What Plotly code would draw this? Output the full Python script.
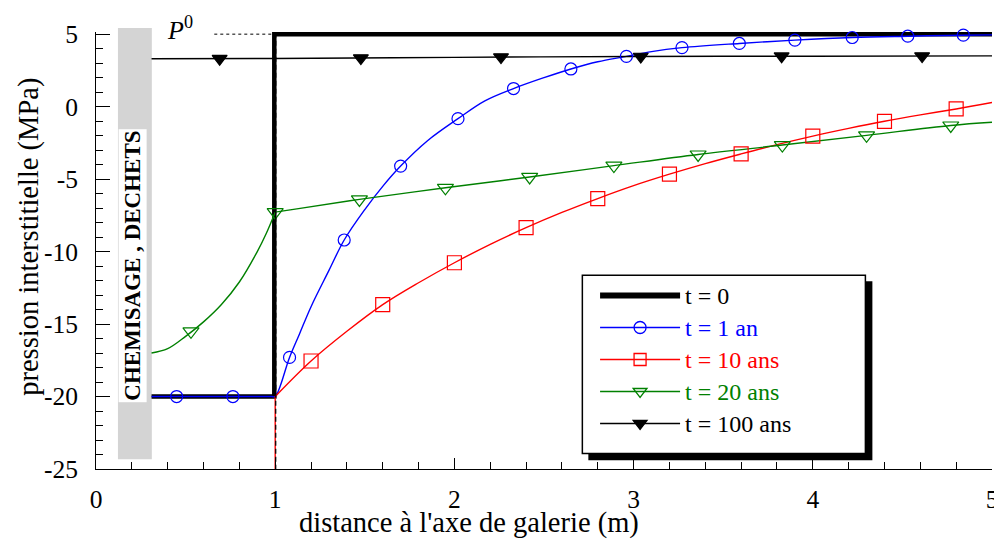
import plotly.graph_objects as go

# ---------------- data ----------------
# t = 0 (initial state)
t0_x = [0.31, 0.995, 0.995, 5.0]
t0_y = [-20.0, -20.0, 5.0, 5.0]

# t = 1 an : curve and marker positions
t1_x = [0.31, 0.60, 0.90, 0.98, 1.0, 1.08, 1.135, 1.2, 1.3, 1.385, 1.5, 1.6, 1.7, 1.85, 2.02,
        2.17, 2.33, 2.5, 2.65, 2.8, 2.96, 3.1, 3.27, 3.59, 3.9, 4.22, 4.53, 4.84, 5.0]
t1_y = [-20.0, -20.0, -20.0, -20.0, -20.0, -17.3, -15.7, -13.8, -11.3, -9.2, -7.1, -5.5, -4.1, -2.35, -0.83,
        0.4, 1.25, 2.0, 2.6, 3.1, 3.47, 3.8, 4.07, 4.36, 4.59, 4.77, 4.86, 4.93, 4.95]
t1_mx = [0.45, 0.764, 1.08, 1.385, 1.70, 2.02, 2.33, 2.65, 2.96, 3.27, 3.59, 3.9, 4.22, 4.53, 4.84]
t1_my = [-20.0, -20.0, -17.3, -9.2, -4.1, -0.83, 1.25, 2.6, 3.47, 4.07, 4.36, 4.59, 4.77, 4.86, 4.93]

# t = 10 ans : drop at the wall, then the curve
t10_drop_x = [1.0, 1.0]
t10_drop_y = [-26.0, -20.0]
t10_x = [1.0, 1.2, 1.4, 1.6, 1.8, 2.0, 2.2, 2.4, 2.6, 2.8, 3.0, 3.2, 3.4, 3.6, 3.8,
         4.0, 4.2, 4.4, 4.6, 4.8, 5.0]
t10_y = [-20.0, -17.55, -15.5, -13.66, -12.15, -10.77, -9.5, -8.35, -7.3, -6.34, -5.45,
         -4.66, -3.93, -3.26, -2.62, -2.03, -1.5, -1.01, -0.57, -0.16, 0.29]
t10_mx = [1.2, 1.6, 2.0, 2.4, 2.8, 3.2, 3.6, 4.0, 4.4, 4.8]
t10_my = [-17.55, -13.66, -10.77, -8.35, -6.34, -4.66, -3.26, -2.03, -1.01, -0.16]

# t = 20 ans : inside the lining, then in the rock
t20_in_x = [0.31, 0.4, 0.5, 0.6, 0.7, 0.8, 0.9, 0.95, 1.0]
t20_in_y = [-17.0, -16.7, -15.85, -14.85, -13.65, -12.1, -10.0, -8.75, -7.28]
t20_x = [1.0, 1.13, 1.47, 1.95, 2.42, 2.89, 3.36, 3.83, 4.3, 4.77, 5.0]
t20_y = [-7.28, -7.04, -6.4, -5.6, -4.85, -4.07, -3.3, -2.65, -1.98, -1.3, -1.08]
t20_mx = [0.53, 1.0, 1.47, 1.95, 2.42, 2.89, 3.36, 3.83, 4.3, 4.77]
t20_my = [-15.5, -7.28, -6.4, -5.6, -4.85, -4.07, -3.3, -2.65, -1.98, -1.3]

# t = 100 ans
t100_x = [0.31, 1.0, 2.0, 3.0, 4.0, 5.0]
t100_y = [3.3, 3.32, 3.4, 3.46, 3.48, 3.5]
t100_mx = [0.69, 1.478, 2.26, 3.04, 3.826, 4.61]
t100_my = [3.31, 3.35, 3.42, 3.46, 3.48, 3.49]

legend_names = ["t = 0", "t = 1 an", "t = 10 ans", "t = 20 ans", "t = 100 ans"]
colors = ["#000000", "#0000ff", "#ff0000", "#008000", "#000000"]
symbols = [None, "circle-open", "square-open", "triangle-down-open", "triangle-down"]

x_ticks = [0, 1, 2, 3, 4, 5]
y_ticks = [-25, -20, -15, -10, -5, 0, 5]
y_ticktext = ["-25", "-20", "-15", "-10", "-5", "0", "5"]

FONT = "'Liberation Serif', 'Times New Roman', Times, serif"
AXFONT = 25.5
TITLEFONT = 28.5

fig = go.Figure()

# t = 0 thick line
fig.add_trace(go.Scatter(x=t0_x, y=t0_y, mode="lines",
                         line=dict(color="black", width=4.5), showlegend=False))

# curves
curves = [(t1_x, t1_y, colors[1], "spline"),
          (t10_drop_x, t10_drop_y, colors[2], "linear"),
          (t10_x, t10_y, colors[2], "spline"),
          (t20_in_x, t20_in_y, colors[3], "spline"),
          (t20_x, t20_y, colors[3], "spline"),
          (t100_x, t100_y, colors[4], "spline")]
for cx, cy, col, shp in curves:
    fig.add_trace(go.Scatter(x=cx, y=cy, mode="lines", line=dict(color=col, width=1.4),
                             line_shape=shp, showlegend=False))

# markers
msets = [(t1_mx, t1_my, colors[1], symbols[1], 12),
         (t10_mx, t10_my, colors[2], symbols[2], 14),
         (t20_mx, t20_my, colors[3], symbols[3], 14),
         (t100_mx, t100_my, colors[4], symbols[4], 13)]
for mx, my, col, sym, sz in msets:
    fig.add_trace(go.Scatter(x=mx, y=my, mode="markers",
                             marker=dict(symbol=sym, size=sz, color=col,
                                         line=dict(color=col, width=1.2)),
                             showlegend=False, cliponaxis=False))

# legend entries
for i, name in enumerate(legend_names):
    txt = "<span style='color:%s;font-size:24px'>%s</span>" % (colors[i], name)
    if i == 0:
        fig.add_trace(go.Scatter(x=[None], y=[None], mode="lines", name=txt,
                                 line=dict(color="black", width=6)))
    else:
        fig.add_trace(go.Scatter(x=[None], y=[None], mode="lines+markers", name=txt,
                                 line=dict(color=colors[i], width=1.5),
                                 marker=dict(symbol=symbols[i], size=12, color=colors[i],
                                             line=dict(color=colors[i], width=1.3))))

shapes = [
    # hatched "chemisage" band
    dict(type="rect", xref="paper", yref="paper", x0=0.0245, x1=0.0623, y0=0.0223, y1=1.0089,
         fillcolor="#d4d4d4", line=dict(width=0), layer="below"),
    # dashed vertical at x = 1
    dict(type="line", xref="x", yref="y", x0=1.003, x1=1.003, y0=-25.6, y1=5,
         line=dict(color="black", width=1.2, dash="5px,3px"), layer="above"),
    # dotted P0 level
    dict(type="line", xref="x", yref="y", x0=0.66, x1=0.99, y0=5, y1=5,
         line=dict(color="black", width=1, dash="3px,3px")),
    # legend shadow & box
    dict(type="rect", xref="paper", yref="paper", x0=0.5495, x1=0.8665, y0=0.020, y1=0.4298,
         fillcolor="black", line=dict(width=0), layer="above"),
    dict(type="rect", xref="paper", yref="paper", x0=0.5428, x1=0.8587, y0=0.0356, y1=0.4432,
         fillcolor="white", line=dict(color="black", width=1.5), layer="above"),
]

annotations = [
    dict(text="<b>CHEMISAGE , DECHETS</b>", xref="x", yref="paper", x=0.206, y=0.465,
         xanchor="center", yanchor="middle",
         textangle=-90, showarrow=False, bgcolor="white", borderpad=1,
         font=dict(family=FONT, size=23, color="black")),
    dict(text="<i>P</i><sup>0</sup>", xref="x", yref="paper", x=0.47, y=1.009,
         xanchor="center", yanchor="middle",
         showarrow=False, font=dict(family=FONT, size=26, color="black")),
    dict(text="pression interstitielle (MPa)", xref="paper", yref="paper",
         x=-0.0756, y=0.532, xanchor="center", yanchor="middle", textangle=-90, showarrow=False,
         font=dict(family=FONT, size=TITLEFONT, color="black")),
    dict(text="distance à l'axe de galerie (m)", xref="paper", yref="paper",
         x=0.416, y=-0.124, xanchor="center", yanchor="middle", showarrow=False,
         font=dict(family=FONT, size=TITLEFONT, color="black")),
]

# the page body adds an 8 px offset: margins compensate so the plot area
# lands at x 96..995, y 20..469 of the window
fig.update_layout(
    width=1002, height=542,
    margin=dict(l=88, r=15, t=12, b=81),
    paper_bgcolor="white", plot_bgcolor="white",
    font=dict(family=FONT, size=24, color="black"),
    shapes=shapes, annotations=annotations,
    showlegend=True,
    legend=dict(x=0.557, y=0.445, xanchor="left", yanchor="top",
                bgcolor="rgba(0,0,0,0)", borderwidth=0,
                font=dict(family=FONT, size=22.3, color="black"), itemwidth=80,
                tracegroupgap=0),
)

fig.update_xaxes(range=[0, 5], tickvals=x_ticks, ticktext=[str(v) for v in x_ticks],
                 ticks="inside", ticklen=11, tickwidth=1, tickcolor="black",
                 showline=True, linecolor="black", linewidth=1, mirror=False,
                 showgrid=False, zeroline=False, ticklabelstandoff=7,
                 minor=dict(dtick=0.2, ticks="inside", ticklen=7, tickcolor="black", tickwidth=1),
                 tickfont=dict(family=FONT, size=AXFONT, color="black"))
fig.update_yaxes(range=[-25, 5.15], tickvals=y_ticks, ticktext=y_ticktext,
                 ticks="inside", ticklen=14, tickwidth=1, tickcolor="black",
                 showline=True, linecolor="black", linewidth=1, mirror=False,
                 showgrid=False, zeroline=False, ticklabelstandoff=12,
                 minor=dict(dtick=1, ticks="inside", ticklen=7, tickcolor="black", tickwidth=1),
                 tickfont=dict(family=FONT, size=AXFONT, color="black"))

fig.write_html("out.html")
